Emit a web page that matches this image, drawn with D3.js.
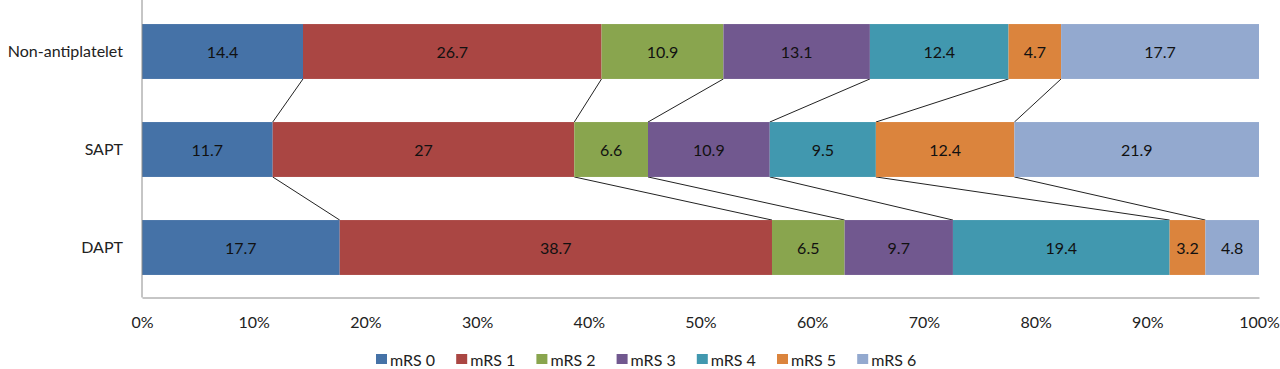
<!DOCTYPE html>
<html>
<head>
<meta charset="utf-8">
<script src="https://cdn.jsdelivr.net/npm/d3@7"></script>
<style>
  body { margin: 0; background: #fff; }
  text { font-family: Lato, "Open Sans", sans-serif; }
</style>
</head>
<body>
<div id="chart"></div>
<script>
// 100% stacked bars with connector lines between groups
const groups = ["Non-antiplatelet", "SAPT", "DAPT"];
const keys = ["mRS 0", "mRS 1", "mRS 2", "mRS 3", "mRS 4", "mRS 5", "mRS 6"];
const nonAntiplatelet = [14.4, 26.7, 10.9, 13.1, 12.4, 4.7, 17.7];
const sapt = [11.7, 27, 6.6, 10.9, 9.5, 12.4, 21.9];
const dapt = [17.7, 38.7, 6.5, 9.7, 19.4, 3.2, 4.8];
const xTicks = [0, 0.1, 0.2, 0.3, 0.4, 0.5, 0.6, 0.7, 0.8, 0.9, 1];
const colors = ["#4572A7", "#AA4643", "#89A54E", "#71588F", "#4198AF", "#DB843D", "#93A9CF"];

const values = [nonAntiplatelet, sapt, dapt];

const W = 1280, H = 369;
const plot = { left: 142, right: 1259, top: 2.5, bottom: 296.5 };
const fontSize = 16;

const svg = d3.select("#chart").append("svg")
    .attr("width", W).attr("height", H);

const x = d3.scaleLinear().domain([0, 1]).range([plot.left, plot.right]);
const y = d3.scaleBand().domain(groups).range([plot.top, plot.bottom]).paddingInner(0.44).paddingOuter(0.22);

// Build stacked rows (normalized to 100%)
const rows = groups.map((g, gi) => {
    const vals = values[gi];
    const total = d3.sum(vals);
    let acc = 0;
    return vals.map((v, i) => {
        const seg = { group: g, key: keys[i], value: v, x0: acc / total, x1: (acc + v) / total, color: colors[i] };
        acc += v;
        return seg;
    });
});

// Connector lines
for (let gi = 0; gi < groups.length - 1; gi++) {
    const y1 = y(groups[gi]) + y.bandwidth();
    const y2 = y(groups[gi + 1]);
    for (let i = 0; i < keys.length - 1; i++) {
        svg.append("line")
            .attr("x1", x(rows[gi][i].x1)).attr("y1", y1)
            .attr("x2", x(rows[gi + 1][i].x1)).attr("y2", y2)
            .attr("stroke", "#222").attr("stroke-width", 1);
    }
}

// Bars
rows.forEach(row => {
    const g = svg.append("g");
    g.selectAll("rect").data(row).enter().append("rect")
        .attr("x", d => x(d.x0))
        .attr("y", d => y(d.group))
        .attr("width", d => x(d.x1) - x(d.x0))
        .attr("height", y.bandwidth())
        .attr("fill", d => d.color);
    g.selectAll("text").data(row).enter().append("text")
        .attr("x", d => (x(d.x0) + x(d.x1)) / 2)
        .attr("y", d => y(d.group) + y.bandwidth() / 2)
        .attr("text-anchor", "middle")
        .attr("dominant-baseline", "central")
        .attr("font-size", fontSize)
        .attr("fill", "#111")
        .text(d => d.value);
});

// Axes
const xAxis = svg.append("g")
    .attr("transform", `translate(0,${plot.bottom + 1})`)
    .call(d3.axisBottom(x).tickValues(xTicks).tickFormat(d3.format(".0%")).tickSize(0).tickPadding(19));
xAxis.select(".domain").attr("stroke", "#8c8c8c");
xAxis.selectAll("text").attr("font-size", fontSize).attr("fill", "#222")
    .style("font-family", "Lato, 'Open Sans', sans-serif");

const yAxis = svg.append("g")
    .attr("transform", `translate(${plot.left},0)`)
    .call(d3.axisLeft(y).tickSize(0).tickPadding(19));
yAxis.select(".domain").attr("d", `M0,0V${plot.bottom + 1}`).attr("stroke", "#8c8c8c");
yAxis.selectAll("text").attr("font-size", fontSize).attr("fill", "#222")
    .style("font-family", "Lato, 'Open Sans', sans-serif");

// Legend
const legendX = 376, legendStep = 80.2, legendY = 359;
const legend = svg.append("g");
keys.forEach((k, i) => {
    const item = legend.append("g").attr("transform", `translate(${legendX + i * legendStep},${legendY})`);
    item.append("rect").attr("x", 0).attr("y", -5).attr("width", 11).attr("height", 10).attr("fill", colors[i]);
    item.append("text").attr("x", 14).attr("y", 0)
        .attr("dominant-baseline", "central")
        .attr("font-size", fontSize).attr("fill", "#222").text(k);
});
</script>
</body>
</html>
